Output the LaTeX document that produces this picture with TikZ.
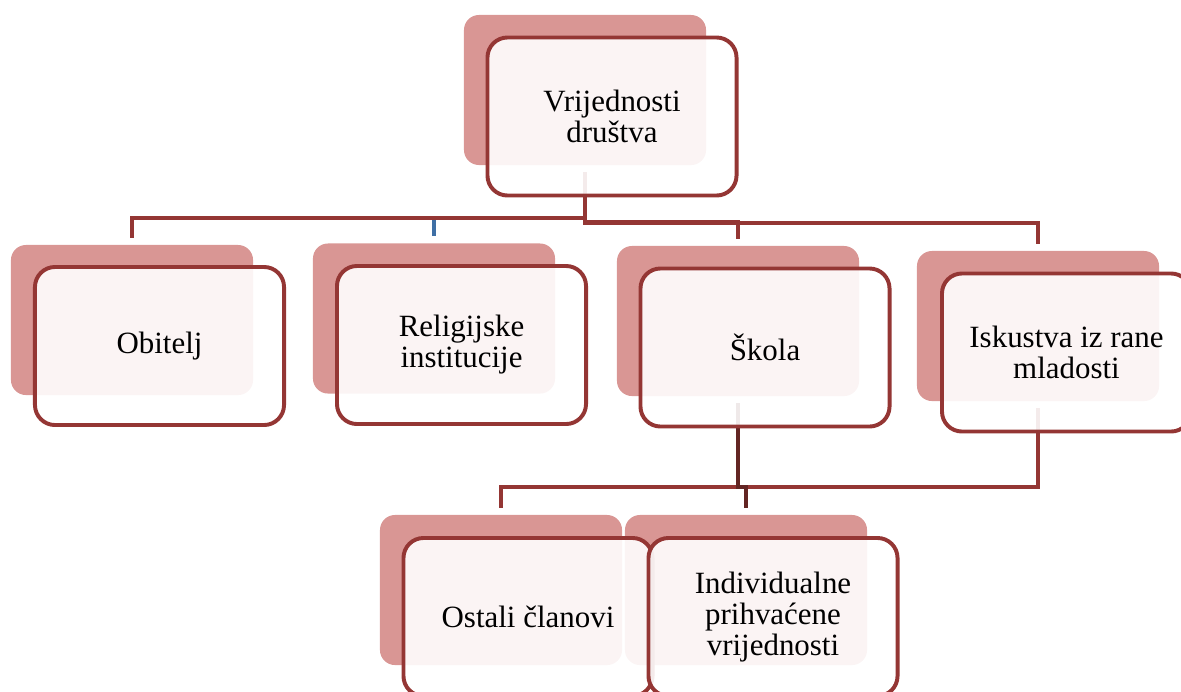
\documentclass[tikz,border=0pt]{standalone}
\usepackage{fontspec}
\setmainfont{Liberation Serif}

\definecolor{framered}{HTML}{943634}
\definecolor{backpink}{HTML}{D99694}
\definecolor{darkred}{HTML}{632523}
\definecolor{stubblue}{HTML}{3F6FA5}

\tikzset{
  backbox/.style={shape=rectangle, fill=backpink, draw=none, rounded corners=0.375cm,
    minimum width=6.05cm, minimum height=3.75cm, inner sep=0pt},
  frontbox/.style={shape=rectangle, fill=white, fill opacity=0.9, text opacity=1,
    draw=framered, line width=2.8pt, rounded corners=0.5cm,
    minimum width=6.225cm, minimum height=3.95cm, inner sep=0pt, align=center,
    font=\fontsize{22}{22}\selectfont},
  link/.style={draw=framered, line width=2.6pt, shorten <=0.175cm, shorten >=0.175cm}
}

\begin{document}
\begin{tikzpicture}[x=0.025cm,y=-0.025cm]
%\draw[help lines, step=100] (0,0) grid (1181,691);
\useasboundingbox (0,0) rectangle (1181,691);
\clip (0,0) rectangle (1181,691);

%%%%%%%%%%%%%%%%%%%%%%%%%%%%%%%%%%%%%%%%%%% back shapes
\node[backbox](topback) at (585,90){};
\node[backbox](obiteljback) at (132,320){};
\node[backbox](religback) at (434,318.5){};
\node[backbox](skolaback) at (738,321){};
\node[backbox](iskustvaback) at (1038,326){};
\node[backbox](ostaliback) at (501,590){};
\node[backbox](indivback) at (746,590){};

%%%%%%%%%%%%%%%%%%%%%%%%%%%%%%%%%%%%%%%%%%% connectors
\draw[link, draw=stubblue] (topback.south) -- ++(0,53) -| (religback.north);
\draw[link] (topback.south) -- ++(0,53) -| (obiteljback.north);
\draw[link] (topback.south) -- ++(0,58) -| (iskustvaback.north);
\draw[link] (topback.south) -- ++(0,57) -| (skolaback.north);
\draw[link] (iskustvaback.south) -- ++(0,86) -| (ostaliback.north);
\draw[link, draw=darkred] (skolaback.south) -- ++(0,91) -| (indivback.north);

%%%%%%%%%%%%%%%%%%%%%%%%%%%%%%%%%%%%%%%%%%% front shapes with text
\node[frontbox](topfront) at (612,116.5){Vrijednosti\\društva};
\node[frontbox](obiteljfront) at (159.5,346){Obitelj};
\node[frontbox](religfront) at (461.5,345){Religijske\\institucije};
\node[frontbox](skolafront) at (765,347.5){Škola};
\node[frontbox](iskustvafront) at (1066.5,352.5){Iskustva iz rane\\mladosti};
\node[frontbox](ostalifront) at (528,617){Ostali članovi};
\node[frontbox](indivfront) at (773,617){Individualne\\prihvaćene\\vrijednosti};
\end{tikzpicture}
\end{document}
